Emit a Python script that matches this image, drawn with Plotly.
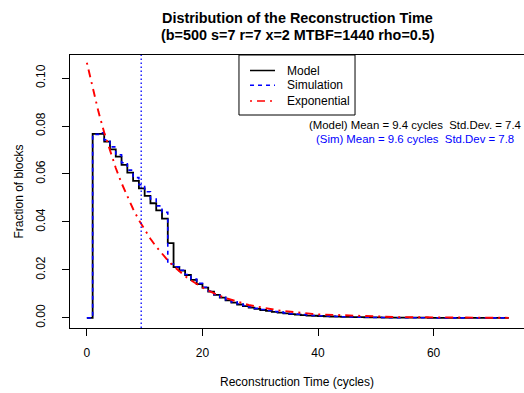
import plotly.graph_objects as go

# ---- data ----
cycles = list(range(0, 74))

model = [0, 0.0767, 0.0767, 0.0735, 0.0703, 0.0672, 0.0638, 0.0606, 0.0571, 0.0540,
         0.0509, 0.0478, 0.0448, 0.0414, 0.0312, 0.0212, 0.0197, 0.0179, 0.0159, 0.0141,
         0.0126, 0.0110, 0.0096, 0.0085, 0.0073, 0.0064, 0.0056, 0.0049, 0.0043, 0.0038,
         0.0033, 0.0029, 0.0025, 0.0022, 0.0019, 0.0016, 0.0014, 0.0012, 0.0010, 0.0009,
         0.0008, 0.0007, 0.0006, 0.0005, 0.0004, 0.0004, 0.0003, 0.0003, 0.0002, 0.0002,
         0.0002, 0.0001, 0.0001, 0.0001, 0.0001, 0.0001, 0.0001, 0.0001, 0.0001, 0.0000,
         0.0000, 0.0000, 0.0000, 0.0000, 0.0000, 0.0000, 0.0000, 0.0000, 0.0000, 0.0000,
         0.0000, 0.0000, 0.0000, 0.0000]

simulation = [0, 0.0765, 0.0772, 0.0742, 0.0713, 0.0680, 0.0647, 0.0616, 0.0585, 0.0555,
              0.0526, 0.0496, 0.0467, 0.0440, 0.0225, 0.0213, 0.0199, 0.0181, 0.0162, 0.0144,
              0.0128, 0.0112, 0.0098, 0.0087, 0.0076, 0.0067, 0.0059, 0.0052, 0.0046, 0.0040,
              0.0035, 0.0031, 0.0027, 0.0024, 0.0021, 0.0018, 0.0016, 0.0014, 0.0012, 0.0010,
              0.0009, 0.0008, 0.0007, 0.0006, 0.0005, 0.0004, 0.0004, 0.0003, 0.0003, 0.0002,
              0.0002, 0.0002, 0.0001, 0.0001, 0.0001, 0.0001, 0.0001, 0.0001, 0.0001, 0.0001,
              0.0000, 0.0000, 0.0000, 0.0000, 0.0000, 0.0000, 0.0000, 0.0000, 0.0000, 0.0000,
              0.0000, 0.0000, 0.0000, 0.0000]

exponential = [0.1064, 0.0957, 0.0860, 0.0773, 0.0695, 0.0625, 0.0562, 0.0505, 0.0454, 0.0408,
               0.0367, 0.0330, 0.0297, 0.0267, 0.0240, 0.0216, 0.0194, 0.0174, 0.0157, 0.0141,
               0.0127, 0.0114, 0.0102, 0.0092, 0.0083, 0.0075, 0.0067, 0.0060, 0.0054, 0.0049,
               0.0044, 0.0040, 0.0036, 0.0032, 0.0029, 0.0026, 0.0023, 0.0021, 0.0019, 0.0017,
               0.0015, 0.0014, 0.0012, 0.0011, 0.0010, 0.0009, 0.0008, 0.0007, 0.0006, 0.0006,
               0.00052, 0.00047, 0.00042, 0.00038, 0.00034, 0.00031, 0.00027, 0.00025, 0.00022, 0.00020,
               0.00018, 0.00016, 0.00014, 0.00013, 0.00012, 0.00010, 0.00009, 0.00008, 0.00008, 0.00007,
               0.00006, 0.00005, 0.00005, 0.00004]

model_mean = 9.4
model_sd = 7.4
sim_mean = 9.6
sim_sd = 7.8

x_ticks = [0, 20, 40, 60]
y_ticks = [0.00, 0.02, 0.04, 0.06, 0.08, 0.10]

series_names = ["Model", "Simulation", "Exponential"]
series_colors = ["black", "#0000ff", "#ff0000"]
series_dash = ["solid", "4px,4px", "2px,5px,8px,5px"]
series_width = [1.8, 1.6, 1.9]

title_line1 = "Distribution of the Reconstruction Time"
title_line2 = "(b=500 s=7 r=7 x=2 MTBF=1440 rho=0.5)"

FONT = "Liberation Sans, Arial, Helvetica, sans-serif"

fig = go.Figure()
fig.add_trace(go.Scatter(x=cycles, y=model, mode="lines", name=series_names[0],
                         line=dict(color=series_colors[0], width=series_width[0], shape="hv")))
fig.add_trace(go.Scatter(x=cycles, y=simulation, mode="lines", name=series_names[1],
                         line=dict(color=series_colors[1], width=series_width[1], shape="hv",
                                   dash=series_dash[1])))
fig.add_trace(go.Scatter(x=cycles, y=exponential, mode="lines", name=series_names[2],
                         line=dict(color=series_colors[2], width=series_width[2],
                                   dash=series_dash[2])))

# mean line
fig.add_shape(type="line", xref="x", yref="paper", x0=model_mean, x1=model_mean, y0=0, y1=1,
              line=dict(color="#0000ff", width=1.3, dash="1.5px,2.5px"))

fig.add_annotation(x=56.7, y=0.0804, xref="x", yref="y",
                   text=f"(Model) Mean = {model_mean} cycles  Std.Dev. = {model_sd}",
                   showarrow=False, font=dict(family=FONT, size=11.4, color="black"))
fig.add_annotation(x=56.7, y=0.0747, xref="x", yref="y",
                   text=f"(Sim) Mean = {sim_mean} cycles  Std.Dev = {sim_sd}",
                   showarrow=False, font=dict(family=FONT, size=11.4, color="#0000ff"))

# legend box (R style), in paper coordinates of the plot area
box_x0, box_x1 = 0.3722, 0.6278
box_y0, box_y1 = 0.7802, 1.0
fig.add_shape(type="rect", xref="paper", yref="paper", x0=box_x0, x1=box_x1, y0=box_y0, y1=box_y1,
              line=dict(color="black", width=1), fillcolor="white", layer="above")
legend_rows = [0.9432, 0.8890, 0.8315]
for name, col, dsh, yy in zip(series_names, series_colors, series_dash, legend_rows):
    fig.add_shape(type="line", xref="paper", yref="paper", x0=0.3965, x1=0.4515, y0=yy, y1=yy,
                  line=dict(color=col, width=1.5, dash=dsh), layer="above")
    fig.add_annotation(x=0.4736, y=yy, xref="paper", yref="paper", xanchor="left", yanchor="middle",
                       text=name, showarrow=False,
                       font=dict(family=FONT, size=12, color="black"))

# title lines
fig.add_annotation(x=0.502, y=1, xref="paper", yref="paper", yshift=37, yanchor="middle",
                   text=f"<b>{title_line1}</b>", showarrow=False,
                   font=dict(family=FONT, size=14.4, color="black"))
fig.add_annotation(x=0.502, y=1, xref="paper", yref="paper", yshift=20, yanchor="middle",
                   text=f"<b>{title_line2}</b>", showarrow=False,
                   font=dict(family=FONT, size=14.4, color="black"))

# axis titles
fig.add_annotation(x=0.5007, y=0, xref="paper", yref="paper", yshift=-54, yanchor="middle",
                   text="Reconstruction Time (cycles)", showarrow=False,
                   font=dict(family=FONT, size=12, color="black"))
fig.add_annotation(x=0, y=0.5, xref="paper", yref="paper", xshift=-52, xanchor="center",
                   text="Fraction of blocks", textangle=-90, showarrow=False,
                   font=dict(family=FONT, size=12, color="black"))

fig.update_layout(
    width=524, height=393,
    margin=dict(l=70, r=0, t=55, b=65),
    paper_bgcolor="white", plot_bgcolor="white",
    font=dict(family=FONT, size=12, color="black"),
    showlegend=False,
    hovermode=False,
    xaxis=dict(range=[-2.92, 75.64], tickvals=x_ticks, ticktext=[str(v) for v in x_ticks],
               showgrid=False, zeroline=False, showline=True, linecolor="black", linewidth=1,
               mirror=True, ticks="outside", ticklen=7, tickcolor="black", tickwidth=1,
               ticklabelstandoff=7, tickfont=dict(family=FONT, size=12, color="black")),
    yaxis=dict(range=[-0.0042, 0.1096], tickvals=y_ticks, ticktext=[f"{v:.2f}" for v in y_ticks],
               showgrid=False, zeroline=False, showline=True, linecolor="black", linewidth=1,
               mirror=False, ticks="outside", ticklen=7, tickcolor="black", tickwidth=1,
               tickangle=-90, ticklabelstandoff=12,
               tickfont=dict(family=FONT, size=12, color="black")),
)

fig.write_html("out.html", config={"displayModeBar": False},
               post_script="document.body.style.margin='0px';")
